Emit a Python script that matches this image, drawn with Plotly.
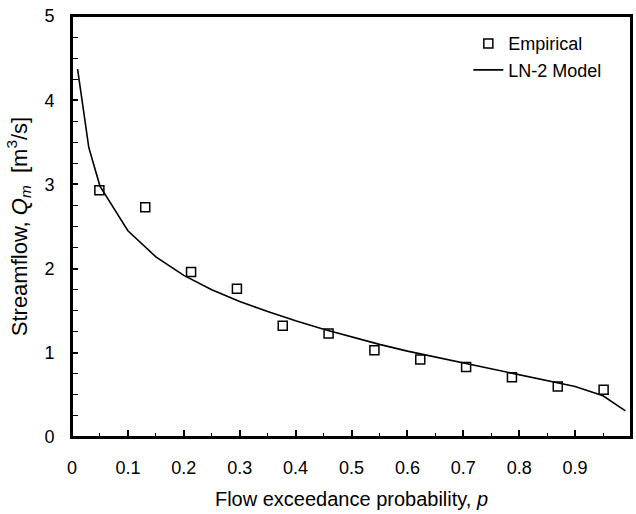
import plotly.graph_objects as go

# Empirical plotting positions and streamflow values
emp_p = [0.049, 0.131, 0.213, 0.295, 0.377, 0.459, 0.541, 0.623, 0.705, 0.787, 0.869, 0.951]
emp_q = [2.93, 2.73, 1.96, 1.76, 1.32, 1.23, 1.03, 0.92, 0.83, 0.71, 0.60, 0.56]

# LN-2 model curve
mod_p = [0.01, 0.03, 0.05, 0.1, 0.15, 0.2, 0.25, 0.3, 0.35, 0.4, 0.45, 0.5,
         0.55, 0.6, 0.65, 0.7, 0.75, 0.8, 0.85, 0.9, 0.95, 0.99]
mod_q = [4.37, 3.44, 2.98, 2.45, 2.14, 1.92, 1.75, 1.61, 1.49, 1.38, 1.28, 1.19,
         1.10, 1.02, 0.95, 0.88, 0.81, 0.74, 0.67, 0.60, 0.49, 0.31]

x_ticks = [0, 0.1, 0.2, 0.3, 0.4, 0.5, 0.6, 0.7, 0.8, 0.9, 1]
x_ticklabels = ["0", "0.1", "0.2", "0.3", "0.4", "0.5", "0.6", "0.7", "0.8", "0.9", "1"]
y_ticks = [0, 1, 2, 3, 4, 5]

FONT = "Liberation Sans, Arial, sans-serif"

fig = go.Figure()
fig.add_trace(go.Scatter(
    x=emp_p, y=emp_q, mode="markers", name="Empirical",
    marker=dict(symbol="square-open", size=9, color="black", line=dict(width=1.5, color="black")),
    legendgroup="a",
))
fig.add_trace(go.Scatter(
    x=mod_p, y=mod_q, mode="lines", name="LN-2 Model",
    line=dict(color="black", width=1.6),
    legendgroup="b",
))
# invisible helper trace so the tick-mark overlay axis is drawn
fig.add_trace(go.Scatter(
    x=mod_p, y=mod_q, mode="lines", xaxis="x2", yaxis="y",
    line=dict(color="rgba(0,0,0,0)", width=0), showlegend=False, hoverinfo="skip",
))

fig.update_layout(
    width=636, height=514,
    margin=dict(l=72, r=3, t=16, b=77),
    paper_bgcolor="white", plot_bgcolor="white",
    font=dict(family=FONT, size=18, color="black"),
    showlegend=True,
    legend=dict(
        x=0.709, y=0.978, xanchor="left", yanchor="top",
        bgcolor="rgba(0,0,0,0)", borderwidth=0,
        font=dict(family=FONT, size=18, color="black"),
        traceorder="grouped", tracegroupgap=0,
    ),
    # main x-axis: labels + title; transparent outside ticks push labels down
    xaxis=dict(
        range=[0, 1], tickmode="array", tickvals=x_ticks, ticktext=x_ticklabels,
        ticks="outside", ticklen=13, tickwidth=1, tickcolor="rgba(0,0,0,0)",
        showline=True, linecolor="#000000", linewidth=2, mirror=True,
        showgrid=False, zeroline=False,
        tickfont=dict(family=FONT, size=18),
        title=dict(text="Flow exceedance probability, <i>p</i>", font=dict(family=FONT, size=20)),
    ),
    # overlay x-axis: inside tick marks only
    xaxis2=dict(
        overlaying="x", anchor="y", side="bottom",
        range=[0, 1], tickmode="array", tickvals=x_ticks, showticklabels=False,
        ticks="inside", ticklen=7, tickwidth=1.5, tickcolor="black",
        minor=dict(dtick=0.05, ticks="inside", ticklen=4, tickwidth=1.2, tickcolor="black"),
        showline=False, showgrid=False, zeroline=False,
    ),
    yaxis=dict(
        range=[0, 5], tickmode="array", tickvals=y_ticks,
        ticks="inside", ticklen=6, tickwidth=1.5, tickcolor="black",
        minor=dict(dtick=0.25, ticks="inside", ticklen=6, tickwidth=1.2, tickcolor="black"),
        showline=True, linecolor="#000000", linewidth=2, mirror=True,
        showgrid=False, zeroline=False,
        ticklabelstandoff=12,
        tickfont=dict(family=FONT, size=18),
        title=dict(text="Streamflow, <i>Q</i><sub><i>m</i></sub>\u00a0\u00a0[m<sup>3</sup>/s]",
                   font=dict(family=FONT, size=22), standoff=11),
    ),
    shapes=[dict(type="rect", xref="paper", yref="paper", x0=0, y0=0, x1=1, y1=1,
                 line=dict(color="black", width=2), layer="above")],
)

fig.write_html("out.html")
